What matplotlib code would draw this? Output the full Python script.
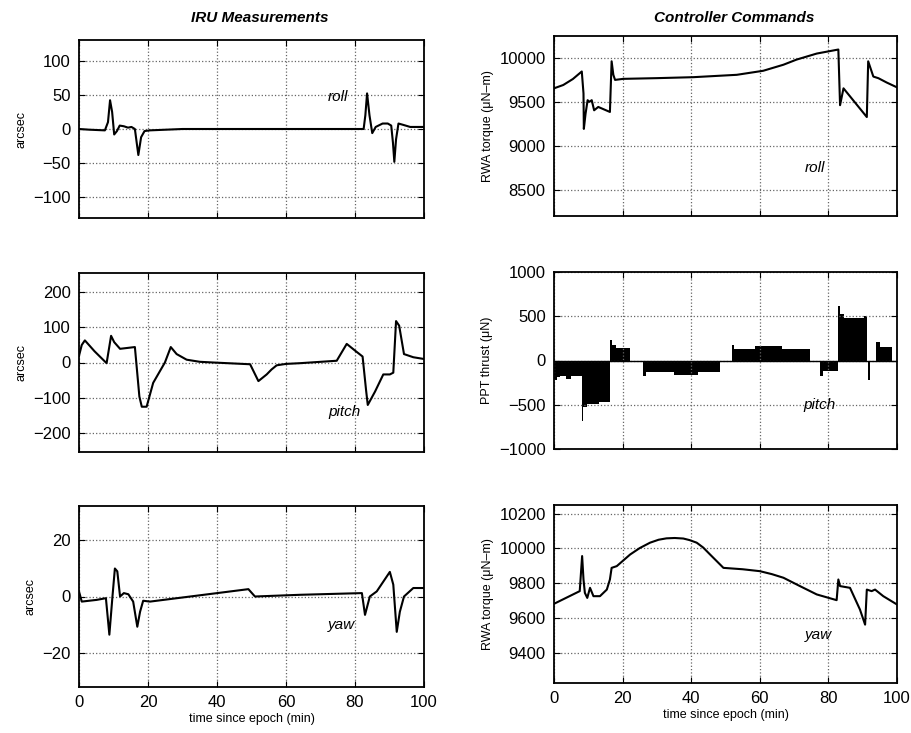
import numpy as np
import matplotlib
matplotlib.use("Agg")
import matplotlib.pyplot as plt

plt.rcParams['font.family'] = ['Liberation Sans', 'DejaVu Sans']

# IRU roll (arcsec)
roll_t = [0, 3, 7.5, 8.4, 9.0, 9.6, 10.2, 11.0, 11.8, 13.0, 14.2, 15.2, 16.2, 17.2, 18.0,
          19.0, 20.5, 30, 50, 70, 82.5, 83.0, 83.5, 84.2, 85.0, 86.0, 88.0, 89.5, 90.5,
          91.0, 91.4, 91.9, 92.6, 94.0, 96.0, 100]
roll_v = [0, -1, -2, 10, 42, 25, -8, -3, 5, 4, 2, 3, 0, -38, -12,
          -3, -2, 0, 0, 0, 0, 20, 52, 20, -6, 3, 8, 8, 5,
          -20, -48, -15, 8, 6, 3, 3]

# IRU pitch (arcsec)
pitch_t = [0, 0.8, 1.7, 4.5, 8.0, 9.3, 10.2, 11.9, 16.2, 17.5, 18.2, 19.6, 21.5, 24.9, 26.6,
           28.3, 31.2, 35, 38.9, 49.6, 52.0, 54.4, 55.8, 57.3, 60, 64, 74.7, 77.6, 80, 82.2,
           83.2, 83.7, 85.8, 88.2, 90.1, 91.1, 91.9, 92.8, 94.2, 96.9, 100]
pitch_v = [19, 50, 63, 32, -2, 76, 58, 39, 44, -97, -126, -126, -58, 0, 44,
           24, 8, 2, 0, -5, -53, -34, -20, -8, -4, -2, 5, 53, 34, 17,
           -78, -121, -83, -34, -34, -29, 118, 105, 24, 15, 10]

# IRU yaw (arcsec)
yaw_t = [0, 0.8, 5.1, 7.8, 8.8, 9.7, 10.4, 11.1, 11.9, 13.0, 14.3, 15.7, 16.9, 17.7, 18.6,
         20.6, 49.1, 51.0, 64, 82, 82.9, 84.3, 86.3, 90.1, 91.1, 92.1, 93.0, 94.2, 96.9, 100]
yaw_v = [1.8, -1.8, -1.2, -0.6, -13.5, 0, 9.9, 8.9, 0, 1.2, 0.8, -1.8, -10.7, -5.4, -1.5,
         -1.8, 2.6, 0, 0.6, 1.2, -6.5, 0, 1.8, 8.7, 4.2, -12.5, -5.4, 0, 3, 3]

# RWA roll torque (uN-m)
rwa_roll_t = [0, 2.7, 5.5, 8.1, 8.6, 8.7, 9.2, 9.8, 10.3, 11.0, 11.7, 12.9, 16.3, 16.8, 17.3,
              17.8, 20.2, 30, 40.6, 53.3, 61, 66.9, 70.7, 76.6, 82.9, 83.4, 84.4, 91.2, 91.6,
              93.1, 94.6, 97, 100]
rwa_roll_v = [9654, 9692, 9760, 9846, 9596, 9192, 9365, 9519, 9500, 9519, 9404, 9442, 9385, 9962, 9808,
              9750, 9762, 9770, 9781, 9808, 9854, 9923, 9981, 10050, 10096, 9462, 9654, 9327, 9962,
              9788, 9769, 9720, 9665]

# PPT pitch thrust (uN), piecewise constant
ppt_edges = [0.0, 0.8, 1.7, 3.5, 5.0, 8.1, 8.6, 9.6, 13.0, 16.3, 16.9, 18.0, 22.2, 26.0,
             26.8, 35.0, 42.0, 48.4, 51.8, 52.6, 58.5, 66.5, 74.6, 77.6, 78.3, 82.9, 83.5,
             84.5, 90.5, 91.2, 91.6, 92.2, 94.0, 95.0, 98.4, 100]
ppt_vals = [-220, -190, -180, -210, -170, -680, -520, -490, -470, 230, 180, 140, 0,
            -170, -130, -160, -130, 0, 180, 130, 160, 130, 0, -170, -120, 620,
            520, 480, 500, 0, -220, 0, 210, 150, 0]

# RWA yaw torque (uN-m)
rwa_yaw_t = [0, 7.5, 8.2, 8.6, 9.0, 9.7, 10.5, 11.5, 13.4, 15.4, 16.3, 16.8, 18.3, 22.2, 25,
             28, 30.5, 32.8, 35.2, 37.7, 39.5, 41.6, 43.5, 45.5, 49.4, 55, 60, 63.5, 66.9,
             71.5, 76.6, 82.4, 82.9, 83.4, 86.3, 89.2, 90.7, 91.2, 92.6, 93.6, 96, 100]
rwa_yaw_v = [9681, 9754, 9956, 9821, 9744, 9715, 9773, 9725, 9725, 9763, 9821, 9888, 9898, 9965, 10002,
             10033, 10050, 10058, 10060, 10057, 10048, 10033, 10005, 9965, 9888, 9880, 9869, 9852, 9831,
             9785, 9735, 9702, 9821, 9783, 9773, 9648, 9561, 9763, 9754, 9763, 9725, 9677]

fig = plt.figure(figsize=(9.11, 7.33), dpi=100)

W, H = 911.0, 733.0
def make_ax(x0, x1, y0, y1):
    return fig.add_axes([x0 / W, 1 - y1 / H, (x1 - x0) / W, (y1 - y0) / H])

axes = [
    make_ax(79, 424, 40, 218), make_ax(554, 897, 36, 216),
    make_ax(79, 424, 273, 452), make_ax(554, 897, 272, 449),
    make_ax(79, 424, 506, 687), make_ax(554, 897, 505, 683),
]

for ax in axes:
    ax.set_xlim(0, 100)
    ax.set_xticks([0, 20, 40, 60, 80, 100])
    ax.grid(True, linestyle=':', color='#666666', linewidth=0.9)
    ax.tick_params(direction='in', top=True, right=True, labelsize=12, length=4, pad=6)
    for s in ax.spines.values():
        s.set_linewidth(1.3)

fig.text(260 / W, 1 - 18 / H, 'IRU Measurements', fontsize=11, fontweight='bold',
         style='italic', ha='center', va='center')
fig.text(734 / W, 1 - 18 / H, 'Controller Commands', fontsize=11, fontweight='bold',
         style='italic', ha='center', va='center')

lw = 1.5
a = axes[0]
a.plot(roll_t, roll_v, color='black', lw=lw)
a.set_ylim(-130, 130)
a.set_yticks([-100, -50, 0, 50, 100])
a.set_ylabel('arcsec', fontsize=9)
a.text(75, 47, 'roll', style='italic', fontsize=11, ha='center', va='center')

a = axes[1]
a.plot(rwa_roll_t, rwa_roll_v, color='black', lw=lw)
a.set_ylim(8200, 10250)
a.set_yticks([8500, 9000, 9500, 10000])
a.set_ylabel('RWA torque (\u03bcN\u2013m)', fontsize=9)
a.text(76, 8750, 'roll', style='italic', fontsize=11, ha='center', va='center')

a = axes[2]
a.plot(pitch_t, pitch_v, color='black', lw=lw)
a.set_ylim(-255, 255)
a.set_yticks([-200, -100, 0, 100, 200])
a.set_ylabel('arcsec', fontsize=9)
a.text(77, -142, 'pitch', style='italic', fontsize=11, ha='center', va='center')

a = axes[3]
a.stairs(ppt_vals, ppt_edges, baseline=0, fill=True, color='black')
a.axhline(0, color='black', lw=1.0)
a.set_ylim(-1000, 1000)
a.set_yticks([-1000, -500, 0, 500, 1000])
a.set_ylabel('PPT thrust (\u03bcN)', fontsize=9)
a.text(77.5, -500, 'pitch', style='italic', fontsize=11, ha='center', va='center')

a = axes[4]
a.plot(yaw_t, yaw_v, color='black', lw=lw)
a.set_ylim(-32, 32)
a.set_yticks([-20, 0, 20])
a.set_ylabel('arcsec', fontsize=9)
a.set_xlabel('time since epoch (min)', fontsize=9, labelpad=2)
a.text(76, -10, 'yaw', style='italic', fontsize=11, ha='center', va='center')

a = axes[5]
a.plot(rwa_yaw_t, rwa_yaw_v, color='black', lw=lw)
a.set_ylim(9225, 10250)
a.set_yticks([9400, 9600, 9800, 10000, 10200])
a.set_ylabel('RWA torque (\u03bcN\u2013m)', fontsize=9)
a.set_xlabel('time since epoch (min)', fontsize=9, labelpad=2)
a.text(77, 9500, 'yaw', style='italic', fontsize=11, ha='center', va='center')

for ax in axes[:4]:
    ax.tick_params(labelbottom=False)

fig.savefig('out.png', dpi=100)
